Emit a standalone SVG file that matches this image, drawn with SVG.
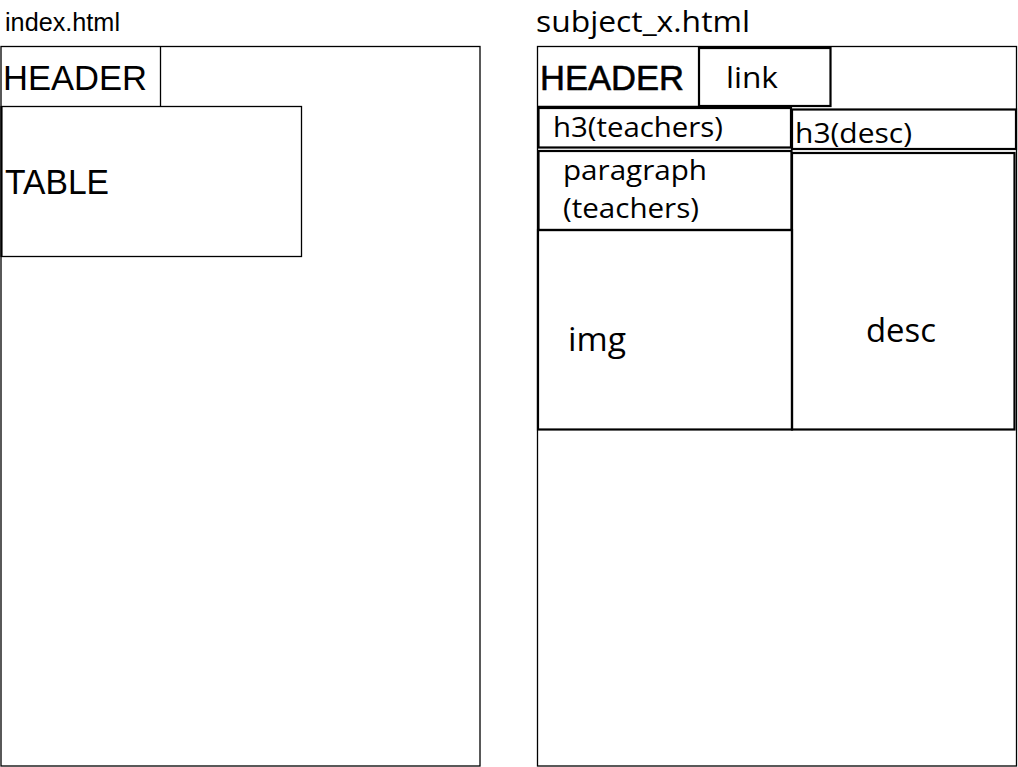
<svg xmlns="http://www.w3.org/2000/svg" width="1018" height="767" viewBox="0 0 1018 767">
<style>
.thin{fill:none;stroke:#000;stroke-width:1.3}
.thick{fill:none;stroke:#000;stroke-width:2.2}
.arial{font-family:"Liberation Sans",Arial,sans-serif;fill:#000}
.seg{font-family:"Open Sans","Noto Sans",sans-serif;fill:#000}
</style>
<rect width="1018" height="767" fill="#fff"/>
<g id="index-page">
<text class="arial" x="5" y="31" font-size="25" textLength="115" lengthAdjust="spacingAndGlyphs">index.html</text>
<rect class="thin" x="1" y="46.5" width="479" height="719.5"/>
</g>
<g id="index-header">
<line class="thin" x1="160.5" y1="46.5" x2="160.5" y2="106.5"/>
<text class="arial" x="3" y="90" font-size="35" textLength="144" lengthAdjust="spacingAndGlyphs">HEADER</text>
</g>
<g id="index-table">
<rect class="thin" x="1.5" y="106.5" width="300" height="150"/>
<line x1="1.5" y1="106" x2="1.5" y2="257" stroke="#000" stroke-width="2"/>
<text class="arial" x="5" y="194" font-size="35" textLength="104" lengthAdjust="spacingAndGlyphs">TABLE</text>
</g>
<g id="subject-page">
<text class="seg" x="536" y="32" font-size="29" textLength="214" lengthAdjust="spacingAndGlyphs">subject_x.html</text>
<rect class="thin" x="537.5" y="46.5" width="479" height="719.5"/>
</g>
<g id="subject-header">
<line class="thin" x1="537.5" y1="106.5" x2="699" y2="106.5"/>
<text class="arial" x="540" y="90" font-size="35" font-weight="bold" textLength="144" lengthAdjust="spacingAndGlyphs" stroke="none" style="font-weight:normal;stroke:#000;stroke-width:0.6">HEADER</text>
</g>
<g id="subject-link">
<rect class="thick" x="699" y="48" width="131.5" height="58"/>
<text class="seg" x="726" y="88" font-size="30" textLength="52" lengthAdjust="spacingAndGlyphs">link</text>
</g>
<g id="h3-teachers">
<rect class="thick" x="538.5" y="108" width="252.5" height="39.5"/>
<text class="seg" x="553" y="137" font-size="28" textLength="170" lengthAdjust="spacingAndGlyphs">h3(teachers)</text>
</g>
<g id="paragraph-teachers">
<rect class="thick" x="538.5" y="151" width="253" height="79"/>
<text class="seg" x="563" y="180" font-size="28" textLength="144" lengthAdjust="spacingAndGlyphs">paragraph</text>
<text class="seg" x="563" y="218" font-size="28" textLength="136" lengthAdjust="spacingAndGlyphs">(teachers)</text>
</g>
<g id="img">
<rect class="thick" x="538" y="230" width="254" height="199.5"/>
<text class="seg" x="568" y="351" font-size="32" textLength="58" lengthAdjust="spacingAndGlyphs">img</text>
</g>
<g id="h3-desc">
<rect class="thick" x="792" y="109.5" width="224" height="39.5"/>
<text class="seg" x="795" y="143" font-size="28" textLength="117" lengthAdjust="spacingAndGlyphs">h3(desc)</text>
</g>
<g id="desc">
<rect class="thick" x="792" y="153" width="222.5" height="276.5"/>
<text class="seg" x="866" y="342" font-size="32" textLength="70" lengthAdjust="spacingAndGlyphs">desc</text>
</g>
<g id="connectors"></g>
</svg>
